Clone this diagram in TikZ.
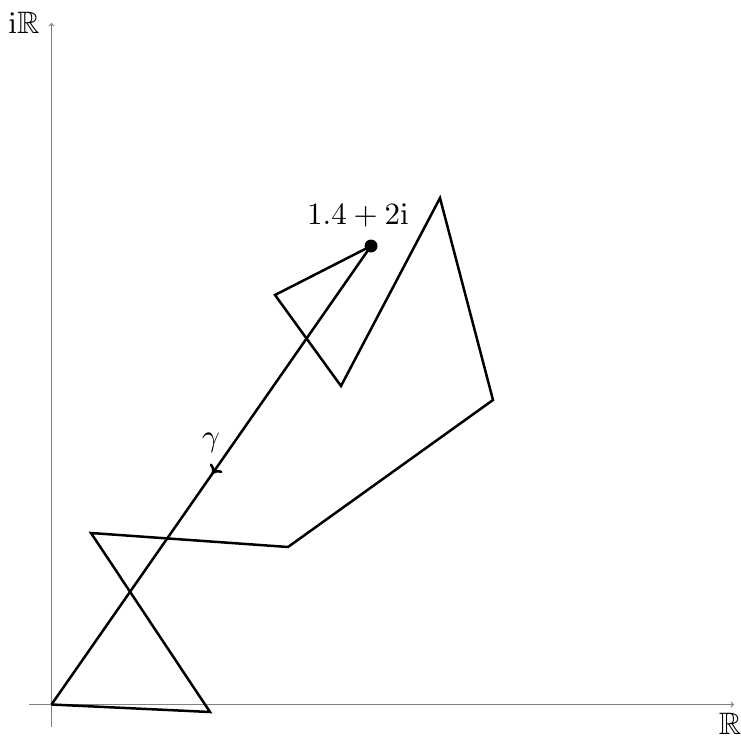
\documentclass[tikz,border=0pt]{standalone}
\usepackage{amssymb}
\usetikzlibrary{decorations.markings,arrows.meta}
\tikzset{
  axis/.style={draw=gray, line width=1.2pt, -{to[scale=1.2]}},
  curve/.style={draw=black, line width=2.5pt, line join=miter},
  lbl/.style={inner sep=0pt, scale=3.1},
  midarrow/.style={postaction={decorate}, decoration={markings, mark=at position 0.497 with {\arrow{Computer Modern Rightarrow[length=8pt, width=15pt, line width=2.5pt]}}}}
}
\begin{document}
\begin{tikzpicture}[x=1pt,y=-1pt]
\useasboundingbox (0,0) rectangle (741,738);
% axes
\coordinate (xs) at (29,704.5);
\coordinate (xe) at (734,704.5);
\coordinate (ys) at (51.5,727);
\coordinate (ye) at (51.5,23);
\draw[axis] (xs) -- (xe);
\draw[axis] (ys) -- (ye);
\node[lbl] (xl) at (730,724) {$\mathbb{R}$};
\node[lbl] (yl) at (24,23) {$\mathrm{i}\mathbb{R}$};
% vertices
\coordinate (o) at (51.5,704.5);
\coordinate (p1) at (210,712);
\coordinate (p2) at (91,533);
\coordinate (p3) at (288,547);
\coordinate (p4) at (493,400);
\coordinate (p5) at (440,198);
\coordinate (p6) at (341,386);
\coordinate (p7) at (275,295);
\coordinate (z) at (371,246);
\draw[curve] (o) -- (p1) -- (p2) -- (p3) -- (p4) -- (p5) -- (p6) -- (p7) -- (z);
\draw[curve, midarrow] (z) -- (o);
\fill (z) circle (6.5);
\node[lbl] (zl) at (358,215) {$1.4+2\mathrm{i}$};
\node[lbl] (g) at (211,443) {$\gamma$};
\end{tikzpicture}
\end{document}
